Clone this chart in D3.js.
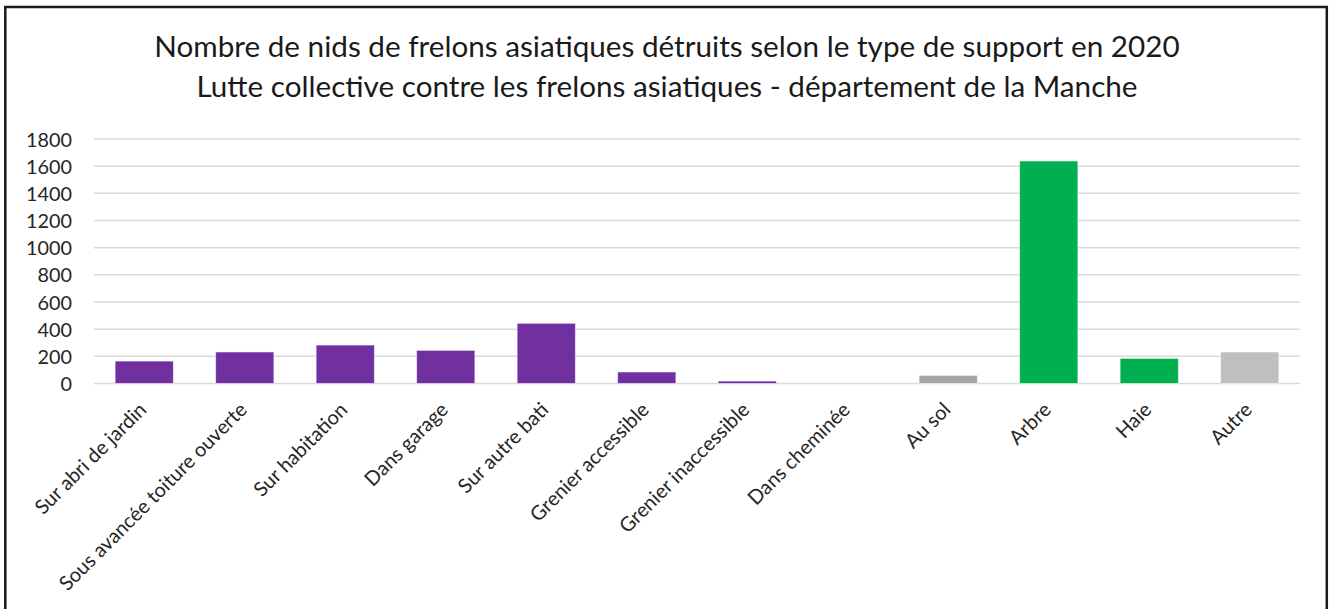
<!DOCTYPE html>
<html>
<head>
<meta charset="utf-8">
<script src="https://cdn.jsdelivr.net/npm/d3@7"></script>
<style>
  html, body { margin: 0; padding: 0; background: #fff; }
  svg { display: block; }
</style>
</head>
<body>
<svg id="chart" width="1329" height="609"></svg>
<script>
// ---- data ----
const titleLines = [
  "Nombre de nids de frelons asiatiques détruits selon le type de support en 2020",
  "Lutte collective contre les frelons asiatiques - département de la Manche"
];
const categories = [
  "Sur abri de jardin",
  "Sous avancée toiture ouverte",
  "Sur habitation",
  "Dans garage",
  "Sur autre bati",
  "Grenier accessible",
  "Grenier inaccessible",
  "Dans cheminée",
  "Au sol",
  "Arbre",
  "Haie",
  "Autre"
];
const values = [165, 232, 283, 244, 443, 85, 18, 0, 60, 1638, 185, 232];
const supportGroup = ["bati","bati","bati","bati","bati","bati","bati","bati","sol","vegetal","vegetal","autre"];
const yTicks = [0, 200, 400, 600, 800, 1000, 1200, 1400, 1600, 1800];

// ---- style ----
const groupColor = { bati: "#7030A0", sol: "#A5A5A5", vegetal: "#00B050", autre: "#BFBFBF" };
const FONT = "Lato, 'Open Sans', sans-serif";

const svg = d3.select("#chart");

function fitSize(text, target) {
  const t = svg.append("text").attr("font-family", FONT).attr("font-size", 100).text(text);
  const w = t.node().getComputedTextLength();
  t.remove();
  return 100 * target / w;
}

// frame
svg.append("rect")
  .attr("x", 5.3).attr("y", 7).attr("width", 1321.5).attr("height", 640)
  .attr("fill", "none").attr("stroke", "#1a1a1a").attr("stroke-width", 2.5);

const x = d3.scaleBand().domain(categories).range([94, 1300]).paddingInner(0.42).paddingOuter(0.21);
const y = d3.scaleLinear().domain([0, 1800]).range([383.5, 139]);

// title
const titleSize = fitSize(titleLines[0], 1026);
svg.append("g").selectAll("text").data(titleLines).join("text")
  .attr("x", 667).attr("y", (d, i) => 57 + i * 39.5)
  .attr("text-anchor", "middle")
  .attr("font-family", FONT).attr("font-size", titleSize)
  .attr("fill", "#1a1a1a")
  .text(d => d);

// gridlines
svg.append("g").selectAll("line").data(yTicks).join("line")
  .attr("x1", 94).attr("x2", 1300)
  .attr("y1", d => y(d)).attr("y2", d => y(d))
  .attr("stroke", "#D9D9D9").attr("stroke-width", 1.5);

// y axis labels
const tickSize = fitSize("1800", 46);
const yAxis = d3.axisLeft(y).tickValues(yTicks).tickSize(0).tickPadding(0).tickFormat(d3.format("d"));
const yg = svg.append("g").attr("transform", "translate(72,0)").call(yAxis);
yg.select(".domain").remove();
yg.selectAll("text").attr("font-family", FONT).attr("font-size", tickSize).attr("fill", "#262626").attr("dy", "0.36em");

// bars
svg.append("g").selectAll("rect").data(values).join("rect")
  .attr("x", (d, i) => x(categories[i]))
  .attr("width", x.bandwidth())
  .attr("y", d => y(d))
  .attr("height", d => y(0) - y(d))
  .attr("fill", (d, i) => groupColor[supportGroup[i]])
  .attr("stroke", "#ffffff").attr("stroke-opacity", 0.55).attr("stroke-width", 1);

// x labels
const labelSize = fitSize("Sous avancée toiture ouverte", 256);
const xAxis = d3.axisBottom(x).tickSize(0).tickPadding(0);
const xg = svg.append("g").attr("transform", "translate(0,0)").call(xAxis);
xg.select(".domain").remove();
xg.selectAll(".tick").attr("transform", d => `translate(${x(d) + x.bandwidth() / 2 + 3.5},411)`);
xg.selectAll("text")
  .attr("y", 0).attr("dy", 0).attr("x", 0)
  .attr("transform", "rotate(-45)")
  .attr("text-anchor", "end")
  .attr("font-family", FONT).attr("font-size", labelSize).attr("fill", "#262626");
</script>
</body>
</html>
